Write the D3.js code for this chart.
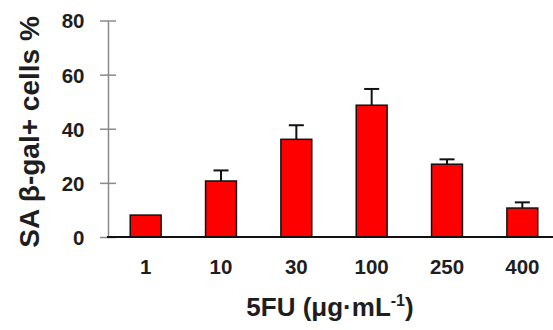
<!DOCTYPE html>
<html>
<head>
<meta charset="utf-8">
<script src="https://cdn.jsdelivr.net/npm/d3@7"></script>
<style>
  body { margin: 0; background: #fff; }
  text { font-family: "Liberation Sans", Arial, sans-serif; font-weight: bold; fill: #1e1e1e; }
</style>
</head>
<body>
<div id="chart"></div>
<script>
// data
var doses = ["1", "10", "30", "100", "250", "400"];
var meanValues = [8.1, 20.7, 36.1, 48.7, 26.9, 10.7];
var errorValues = [0, 3.9, 5.2, 6.0, 1.8, 2.1];
var yTicks = [0, 20, 40, 60, 80];

var width = 553, height = 330;

var svg = d3.select("#chart").append("svg")
    .attr("width", width)
    .attr("height", height);

// scales
var x = d3.scaleBand()
    .domain(doses)
    .range([108, 560])
    .paddingInner(0.59)
    .paddingOuter(0.295);

var y = d3.scaleLinear()
    .domain([0, 80])
    .range([237, 20.5]);

// y axis (gray, ticks crossing the line)
var yAxis = d3.axisLeft(y)
    .tickValues(yTicks)
    .tickSizeInner(8)
    .tickSizeOuter(0);

var gy = svg.append("g")
    .attr("class", "y-axis")
    .attr("transform", "translate(108,0)")
    .call(yAxis);
gy.select(".domain").attr("stroke", "#8a8a8a").attr("stroke-width", 1.5);
gy.selectAll(".tick line").attr("stroke", "#8a8a8a").attr("stroke-width", 1.5).attr("x2", 8).attr("x1", -8);
gy.selectAll(".tick text")
    .attr("x", -23.5)
    .attr("dy", "0.36em")
    .style("font-size", "20.5px")
    .style("font-family", "Liberation Sans, Arial, sans-serif")
    .style("font-weight", "bold")
    .attr("fill", "#1e1e1e");

// bars
svg.selectAll("rect.bar")
    .data(doses)
    .enter().append("rect")
    .attr("class", "bar")
    .attr("x", function(d) { return x(d); })
    .attr("width", x.bandwidth())
    .attr("y", function(d, i) { return y(meanValues[i]); })
    .attr("height", function(d, i) { return y(0) - y(meanValues[i]); })
    .attr("fill", "#ff0000")
    .attr("stroke", "#111")
    .attr("stroke-width", 1.5);

// error bars (upper only)
var err = svg.selectAll("g.err")
    .data(doses.filter(function(d, i) { return errorValues[i] > 0; }))
    .enter().append("g")
    .attr("class", "err");

err.append("line")
    .attr("x1", function(d) { return x(d) + x.bandwidth() / 2; })
    .attr("x2", function(d) { return x(d) + x.bandwidth() / 2; })
    .attr("y1", function(d) { var i = doses.indexOf(d); return y(meanValues[i]); })
    .attr("y2", function(d) { var i = doses.indexOf(d); return y(meanValues[i] + errorValues[i]); })
    .attr("stroke", "#111")
    .attr("stroke-width", 2);

err.append("line")
    .attr("x1", function(d) { return x(d) + x.bandwidth() / 2 - 7.5; })
    .attr("x2", function(d) { return x(d) + x.bandwidth() / 2 + 7.5; })
    .attr("y1", function(d) { var i = doses.indexOf(d); return y(meanValues[i] + errorValues[i]); })
    .attr("y2", function(d) { var i = doses.indexOf(d); return y(meanValues[i] + errorValues[i]); })
    .attr("stroke", "#111")
    .attr("stroke-width", 2);

// x axis (black baseline, no ticks)
var xAxis = d3.axisBottom(x)
    .tickSize(0)
    .tickPadding(0);

var gx = svg.append("g")
    .attr("class", "x-axis")
    .attr("transform", "translate(0," + y(0) + ")")
    .call(xAxis);
gx.select(".domain").remove();
gx.append("line")
    .attr("x1", 107)
    .attr("x2", width)
    .attr("stroke", "#111")
    .attr("stroke-width", 2);
gx.selectAll(".tick text")
    .attr("y", 37)
    .attr("dy", 0)
    .style("font-size", "20.5px")
    .style("font-family", "Liberation Sans, Arial, sans-serif")
    .style("font-weight", "bold")
    .attr("fill", "#1e1e1e");

// axis titles
var xTitle = svg.append("text")
    .attr("x", 330)
    .attr("y", 316)
    .attr("text-anchor", "middle")
    .style("font-size", "26px");
xTitle.append("tspan").text("5FU (\u03bcg\u00b7mL");
xTitle.append("tspan").attr("dy", -10).style("font-size", "16px").text("-1");
xTitle.append("tspan").attr("dy", 10).text(")");

svg.append("text")
    .attr("transform", "translate(39,132) rotate(-90)")
    .attr("text-anchor", "middle")
    .style("font-size", "28px")
    .text("SA \u03b2-gal+ cells %");
</script>
</body>
</html>
